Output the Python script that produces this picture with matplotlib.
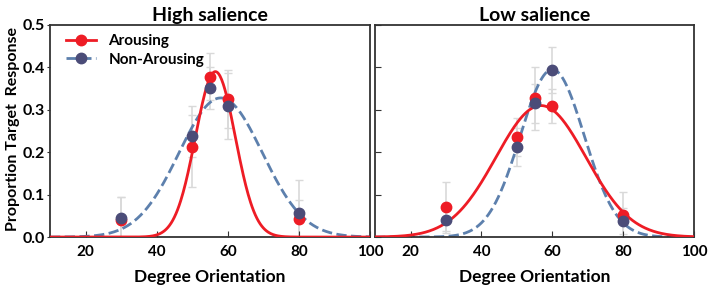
import numpy as np
import matplotlib
matplotlib.use('Agg')
import matplotlib.pyplot as plt

plt.rcParams['font.family'] = ['Lato', 'DejaVu Sans']
plt.rcParams['font.weight'] = 'bold'

# orientations tested
orient = [30, 50, 55, 60, 80]

# High salience
hi_arous = [0.040, 0.213, 0.378, 0.325, 0.042]
hi_arous_err = [0.055, 0.095, 0.055, 0.068, 0.045]
hi_non = [0.046, 0.238, 0.351, 0.309, 0.056]
hi_non_err = [0.048, 0.050, 0.050, 0.078, 0.078]

# Low salience
lo_arous = [0.072, 0.236, 0.327, 0.310, 0.052]
lo_arous_err = [0.058, 0.045, 0.075, 0.040, 0.055]
lo_non = [0.040, 0.212, 0.315, 0.394, 0.038]
lo_non_err = [0.030, 0.045, 0.045, 0.055, 0.030]

# gaussian fit parameters (amplitude, mean, sd)
hi_arous_fit = (0.39, 56.5, 5.6)
hi_non_fit = (0.328, 58.0, 11.7)
lo_arous_fit = (0.31, 56.8, 12.7)
lo_non_fit = (0.395, 60.0, 9.0)

red = '#ee1c25'
blue_line = '#5d80ad'
navy = '#4b4c78'
err_col = '#d9d9d9'


def gauss(x, p):
    a, m, s = p
    return a * np.exp(-(x - m) ** 2 / (2 * s ** 2))


fig = plt.figure(figsize=(7.09, 2.87), dpi=100)
ax1 = fig.add_axes([0.0705, 0.174, 0.4515, 0.739])
ax2 = fig.add_axes([0.529, 0.174, 0.450, 0.739])

xx = np.linspace(10, 100, 400)

panels = [
    (ax1, 'High salience', hi_arous, hi_arous_err, hi_non, hi_non_err, hi_arous_fit, hi_non_fit),
    (ax2, 'Low salience', lo_arous, lo_arous_err, lo_non, lo_non_err, lo_arous_fit, lo_non_fit),
]

for ax, title, ya, ea, yn, en, fa, fn in panels:
    ax.errorbar(orient, ya, yerr=ea, fmt='none', ecolor=err_col, elinewidth=1.2, capsize=3, zorder=1)
    ax.errorbar(orient, yn, yerr=en, fmt='none', ecolor=err_col, elinewidth=1.2, capsize=3, zorder=1)
    ax.plot(xx, gauss(xx, fn), ls='--', color=blue_line, lw=2, zorder=2)
    ax.plot(xx, gauss(xx, fa), ls='-', color=red, lw=2, zorder=3)
    ax.plot(orient, ya, 'o', color=red, ms=7.5, zorder=4)
    ax.plot(orient, yn, 'o', color=navy, ms=7.5, zorder=5)

    ax.set_xlim(10, 100)
    ax.set_ylim(0, 0.5)
    ax.set_xticks([20, 40, 60, 80, 100])
    ax.set_yticks([0, 0.1, 0.2, 0.3, 0.4, 0.5])
    ax.set_title(title, fontsize=14, fontweight='bold', pad=3)
    ax.set_xlabel('Degree Orientation', fontsize=12.5, fontweight='bold', labelpad=7)
    for sp in ax.spines.values():
        sp.set_color('#333333')
        sp.set_linewidth(1.3)
    ax.tick_params(axis='x', direction='in', length=4, labelsize=11, pad=6, color='#333333')
    for lab in ax.get_xticklabels() + ax.get_yticklabels():
        lab.set_fontweight('bold')

ax1.tick_params(axis='y', direction='out', length=2.5, labelsize=11.5, pad=1, color='#333333')
ax1.set_yticklabels(['0.0', '0.1', '0.2', '0.3', '0.4', '0.5'], fontweight='bold')
ax1.set_ylabel('Proportion Target  Response', fontsize=11.5, fontweight='bold')
ax1.yaxis.set_label_coords(-0.093, 0.51)
ax2.tick_params(axis='y', direction='in', length=4, labelleft=False, color='#333333')

# legend handles
h1, = ax1.plot([], [], '-o', color=red, mfc=red, mec=red, lw=2, ms=7.5)
h2, = ax1.plot([], [], '--o', color=blue_line, mfc=navy, mec=navy, lw=2, ms=7.5)
ax1.legend([h1, h2], ['Arousing', 'Non-Arousing'], loc='upper left', frameon=False,
           prop={'weight': 'bold', 'size': 11}, handlelength=2.0, borderaxespad=0.2,
           labelspacing=0.3, bbox_to_anchor=(0.02, 1.0))

fig.savefig('out.png', dpi=100)
